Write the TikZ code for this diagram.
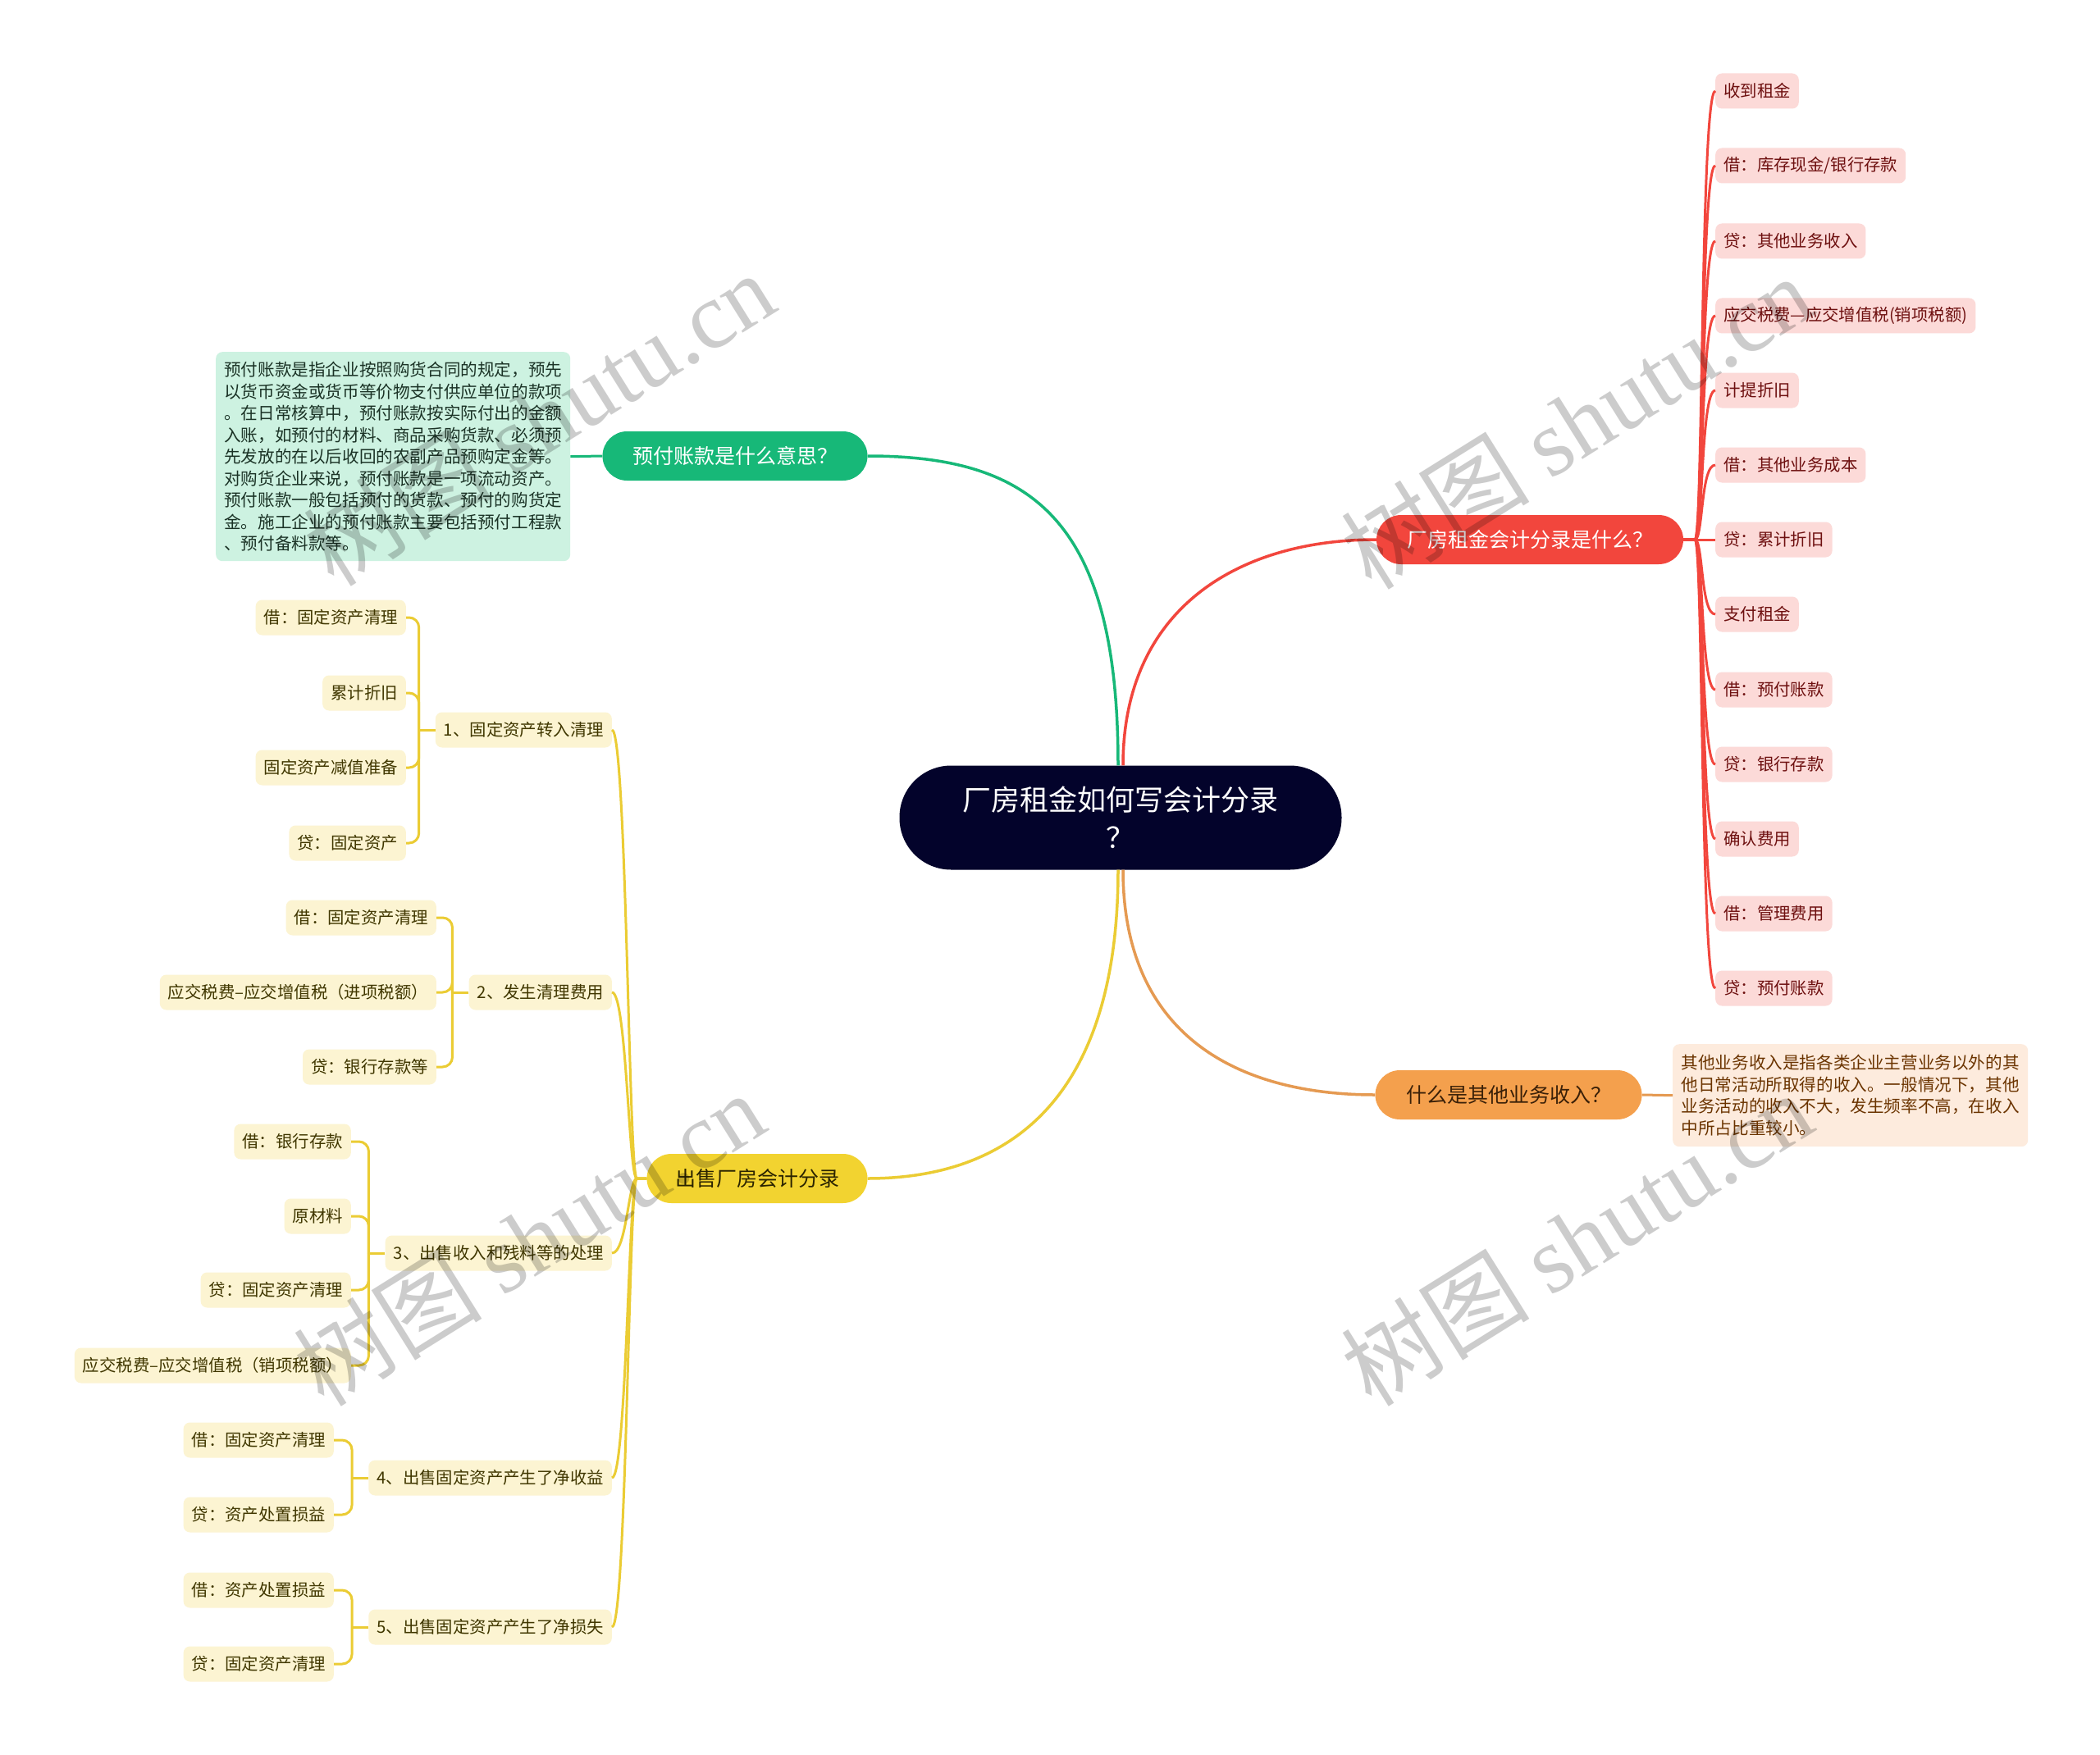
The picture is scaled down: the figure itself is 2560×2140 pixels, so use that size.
\documentclass[tikz,border=0pt]{standalone}
\usepackage{fontspec}
\newfontfamily\cjk{Noto Sans CJK SC}
\newfontfamily\wmlat{Liberation Serif}
\usetikzlibrary{calc}
\definecolor{cnavy}{HTML}{03032B}
\definecolor{cgreen}{HTML}{17B878}
\definecolor{cgreennote}{HTML}{CDF2E1}
\definecolor{cgreentxt}{HTML}{1B3326}
\definecolor{cred}{HTML}{F2463D}
\definecolor{credleaf}{HTML}{FCDAD8}
\definecolor{credtxt}{HTML}{6E1010}
\definecolor{corange}{HTML}{F4A04D}
\definecolor{corangetxt}{HTML}{3A2008}
\definecolor{corangenote}{HTML}{FDEBDD}
\definecolor{corangenotetxt}{HTML}{6B3400}
\definecolor{cyellow}{HTML}{F2D330}
\definecolor{cyellowtxt}{HTML}{2B2400}
\definecolor{cyellowleaf}{HTML}{FCF4D2}
\definecolor{cyellowleaftxt}{HTML}{403700}
\definecolor{cyline}{HTML}{EBCC34}
\definecolor{coline}{HTML}{E59A52}
\begin{document}
\begin{tikzpicture}[x=1pt,y=-1pt,
  centernode/.style={fill=cnavy, text=white, rounded corners=63, minimum width=539, minimum height=127, align=center, inner sep=0, font=\cjk\fontsize{35}{46}\selectfont},
  mainbr/.style={rounded corners=30, minimum height=60, inner sep=0, font=\cjk\fontsize{25}{30}\selectfont},
  leafbase/.style={rounded corners=8, minimum height=43, inner xsep=10, inner ysep=0, font=\cjk\fontsize{20.4}{24}\selectfont},
  redleaf/.style={leafbase, fill=credleaf, text=credtxt, anchor=west},
  yleaf/.style={leafbase, fill=cyellowleaf, text=cyellowleaftxt, anchor=east},
  notebox/.style={rounded corners=8, anchor=north west, align=left, inner xsep=10, inner ysep=0, font=\cjk\fontsize{20.6}{26.5}\selectfont},
  rline/.style={draw=cred, line width=3},
  yline/.style={draw=cyline, line width=3},
  wm/.style={text=black, opacity=0.2, rotate=32, font=\cjk\fontsize{115}{120}\selectfont}
]
\fill[white] (0,0) rectangle (2560,2140);
\useasboundingbox (0,0) rectangle (2560,2140);

% centre
\node[centernode] (c) at (1366,997) {厂房租金如何写会计分录\\？};

% main branches
\node[mainbr, fill=cgreen, text=white, minimum width=323] (g) at (896,556) {预付账款是什么意思？};
\node[mainbr, fill=cred, text=white, minimum width=374] (r) at (1865,658) {厂房租金会计分录是什么？};
\node[mainbr, fill=corange, text=corangetxt, minimum width=325] (o) at (1839,1335) {什么是其他业务收入？};
\node[mainbr, fill=cyellow, text=cyellowtxt, minimum width=269] (y) at (923,1437) {出售厂房会计分录};

% notes
\node[notebox, fill=cgreennote, text=cgreentxt, minimum width=431, minimum height=255] (gn) at (263,429) {预付账款是指企业按照购货合同的规定，预先\\以货币资金或货币等价物支付供应单位的款项\\。在日常核算中，预付账款按实际付出的金额\\入账，如预付的材料、商品采购货款、必须预\\先发放的在以后收回的农副产品预购定金等。\\对购货企业来说，预付账款是一项流动资产。\\预付账款一般包括预付的货款、预付的购货定\\金。施工企业的预付账款主要包括预付工程款\\、预付备料款等。};
\node[notebox, fill=corangenote, text=corangenotetxt, minimum width=433, minimum height=125] (on) at (2039,1273) {其他业务收入是指各类企业主营业务以外的其\\他日常活动所取得的收入。一般情况下，其他\\业务活动的收入不大，发生频率不高，在收入\\中所占比重较小。};

% main connectors
\draw[cgreen, line width=3.5] ($(c.north)+(-3,0)$) .. controls ($(c.north)+(-3,-300)$) and ($(g.east)+(200,0)$) .. (g.east);
\draw[cred, line width=3.5] ($(c.north)+(3,0)$) .. controls ($(c.north)+(3,-190)$) and ($(r.west)+(-170,0)$) .. (r.west);
\draw[cyline, line width=3.5] ($(c.south)+(-3,0)$) .. controls ($(c.south)+(-3,260)$) and ($(y.east)+(190,0)$) .. (y.east);
\draw[coline, line width=3.5] ($(c.south)+(3,0)$) .. controls ($(c.south)+(3,200)$) and ($(o.west)+(-170,0)$) .. (o.west);
\draw[cgreen, line width=3] (g.west) -- (gn.east);
\draw[coline, line width=3] (o.east) -- (on.west);

% red leaves
\node[redleaf] (rl1) at (2091,111) {收到租金};
\node[redleaf] (rl2) at (2091,202) {借：库存现金/银行存款};
\node[redleaf] (rl3) at (2091,294) {贷：其他业务收入};
\node[redleaf] (rl4) at (2091,385) {应交税费—应交增值税(销项税额)};
\node[redleaf] (rl5) at (2091,476) {计提折旧};
\node[redleaf] (rl6) at (2091,567) {借：其他业务成本};
\node[redleaf] (rl7) at (2091,658) {贷：累计折旧};
\node[redleaf] (rl8) at (2091,749) {支付租金};
\node[redleaf] (rl9) at (2091,841) {借：预付账款};
\node[redleaf] (rl10) at (2091,932) {贷：银行存款};
\node[redleaf] (rl11) at (2091,1023) {确认费用};
\node[redleaf] (rl12) at (2091,1114) {借：管理费用};
\node[redleaf] (rl13) at (2091,1205) {贷：预付账款};
\foreach \i in {1,...,13}{
  \draw[rline] (r.east) -- ++(14,0) .. controls ($(r.east)+(24,0)$) and ($(rl\i.west)+(-18,0)$) .. (rl\i.west);
}

% yellow sub nodes
\node[yleaf] (s1) at (746,890) {1、固定资产转入清理};
\node[yleaf] (s2) at (746,1210) {2、发生清理费用};
\node[yleaf] (s3) at (746,1528) {3、出售收入和残料等的处理};
\node[yleaf] (s4) at (746,1802) {4、出售固定资产产生了净收益};
\node[yleaf] (s5) at (746,1984) {5、出售固定资产产生了净损失};
\foreach \i in {1,...,5}{
  \draw[yline] (y.west) -- ++(-12,0) .. controls ($(y.west)+(-22,0)$) and ($(s\i.east)+(18,0)$) .. (s\i.east);
  \coordinate (b\i) at ($(s\i.west)+(-20,0)$);
  \draw[yline] (s\i.west) -- (b\i);
}

% yellow leaves
\node[yleaf] (l11) at (495,753) {借：固定资产清理};
\node[yleaf] (l12) at (495,845) {累计折旧};
\node[yleaf] (l13) at (495,936) {固定资产减值准备};
\node[yleaf] (l14) at (495,1028) {贷：固定资产};
\node[yleaf] (l21) at (532,1119) {借：固定资产清理};
\node[yleaf] (l22) at (532,1210) {应交税费–应交增值税（进项税额）};
\node[yleaf] (l23) at (532,1301) {贷：银行存款等};
\node[yleaf] (l31) at (428,1392) {借：银行存款};
\node[yleaf] (l32) at (428,1483) {原材料};
\node[yleaf] (l33) at (428,1573) {贷：固定资产清理};
\node[yleaf] (l34) at (428,1665) {应交税费–应交增值税（销项税额）};
\node[yleaf] (l41) at (407,1756) {借：固定资产清理};
\node[yleaf] (l42) at (407,1847) {贷：资产处置损益};
\node[yleaf] (l51) at (407,1939) {借：资产处置损益};
\node[yleaf] (l52) at (407,2029) {贷：固定资产清理};

\foreach \a/\b in {1/l11,1/l12,1/l13,1/l14,2/l21,2/l22,2/l23,3/l31,3/l32,3/l33,3/l34,4/l41,4/l42,5/l51,5/l52}{
  \draw[yline, rounded corners=12] (b\a) |- (\b.east);
}

% watermarks
\node[wm] (wm1) at (657,510) {树图 {\wmlat shutu.cn}};
\node[wm] (wm2) at (1922,514) {树图 {\wmlat shutu.cn}};
\node[wm] (wm3) at (645,1510) {树图 {\wmlat shutu.cn}};
\node[wm] (wm4) at (1922,1510) {树图 {\wmlat shutu.cn}};
\end{tikzpicture}
\end{document}
